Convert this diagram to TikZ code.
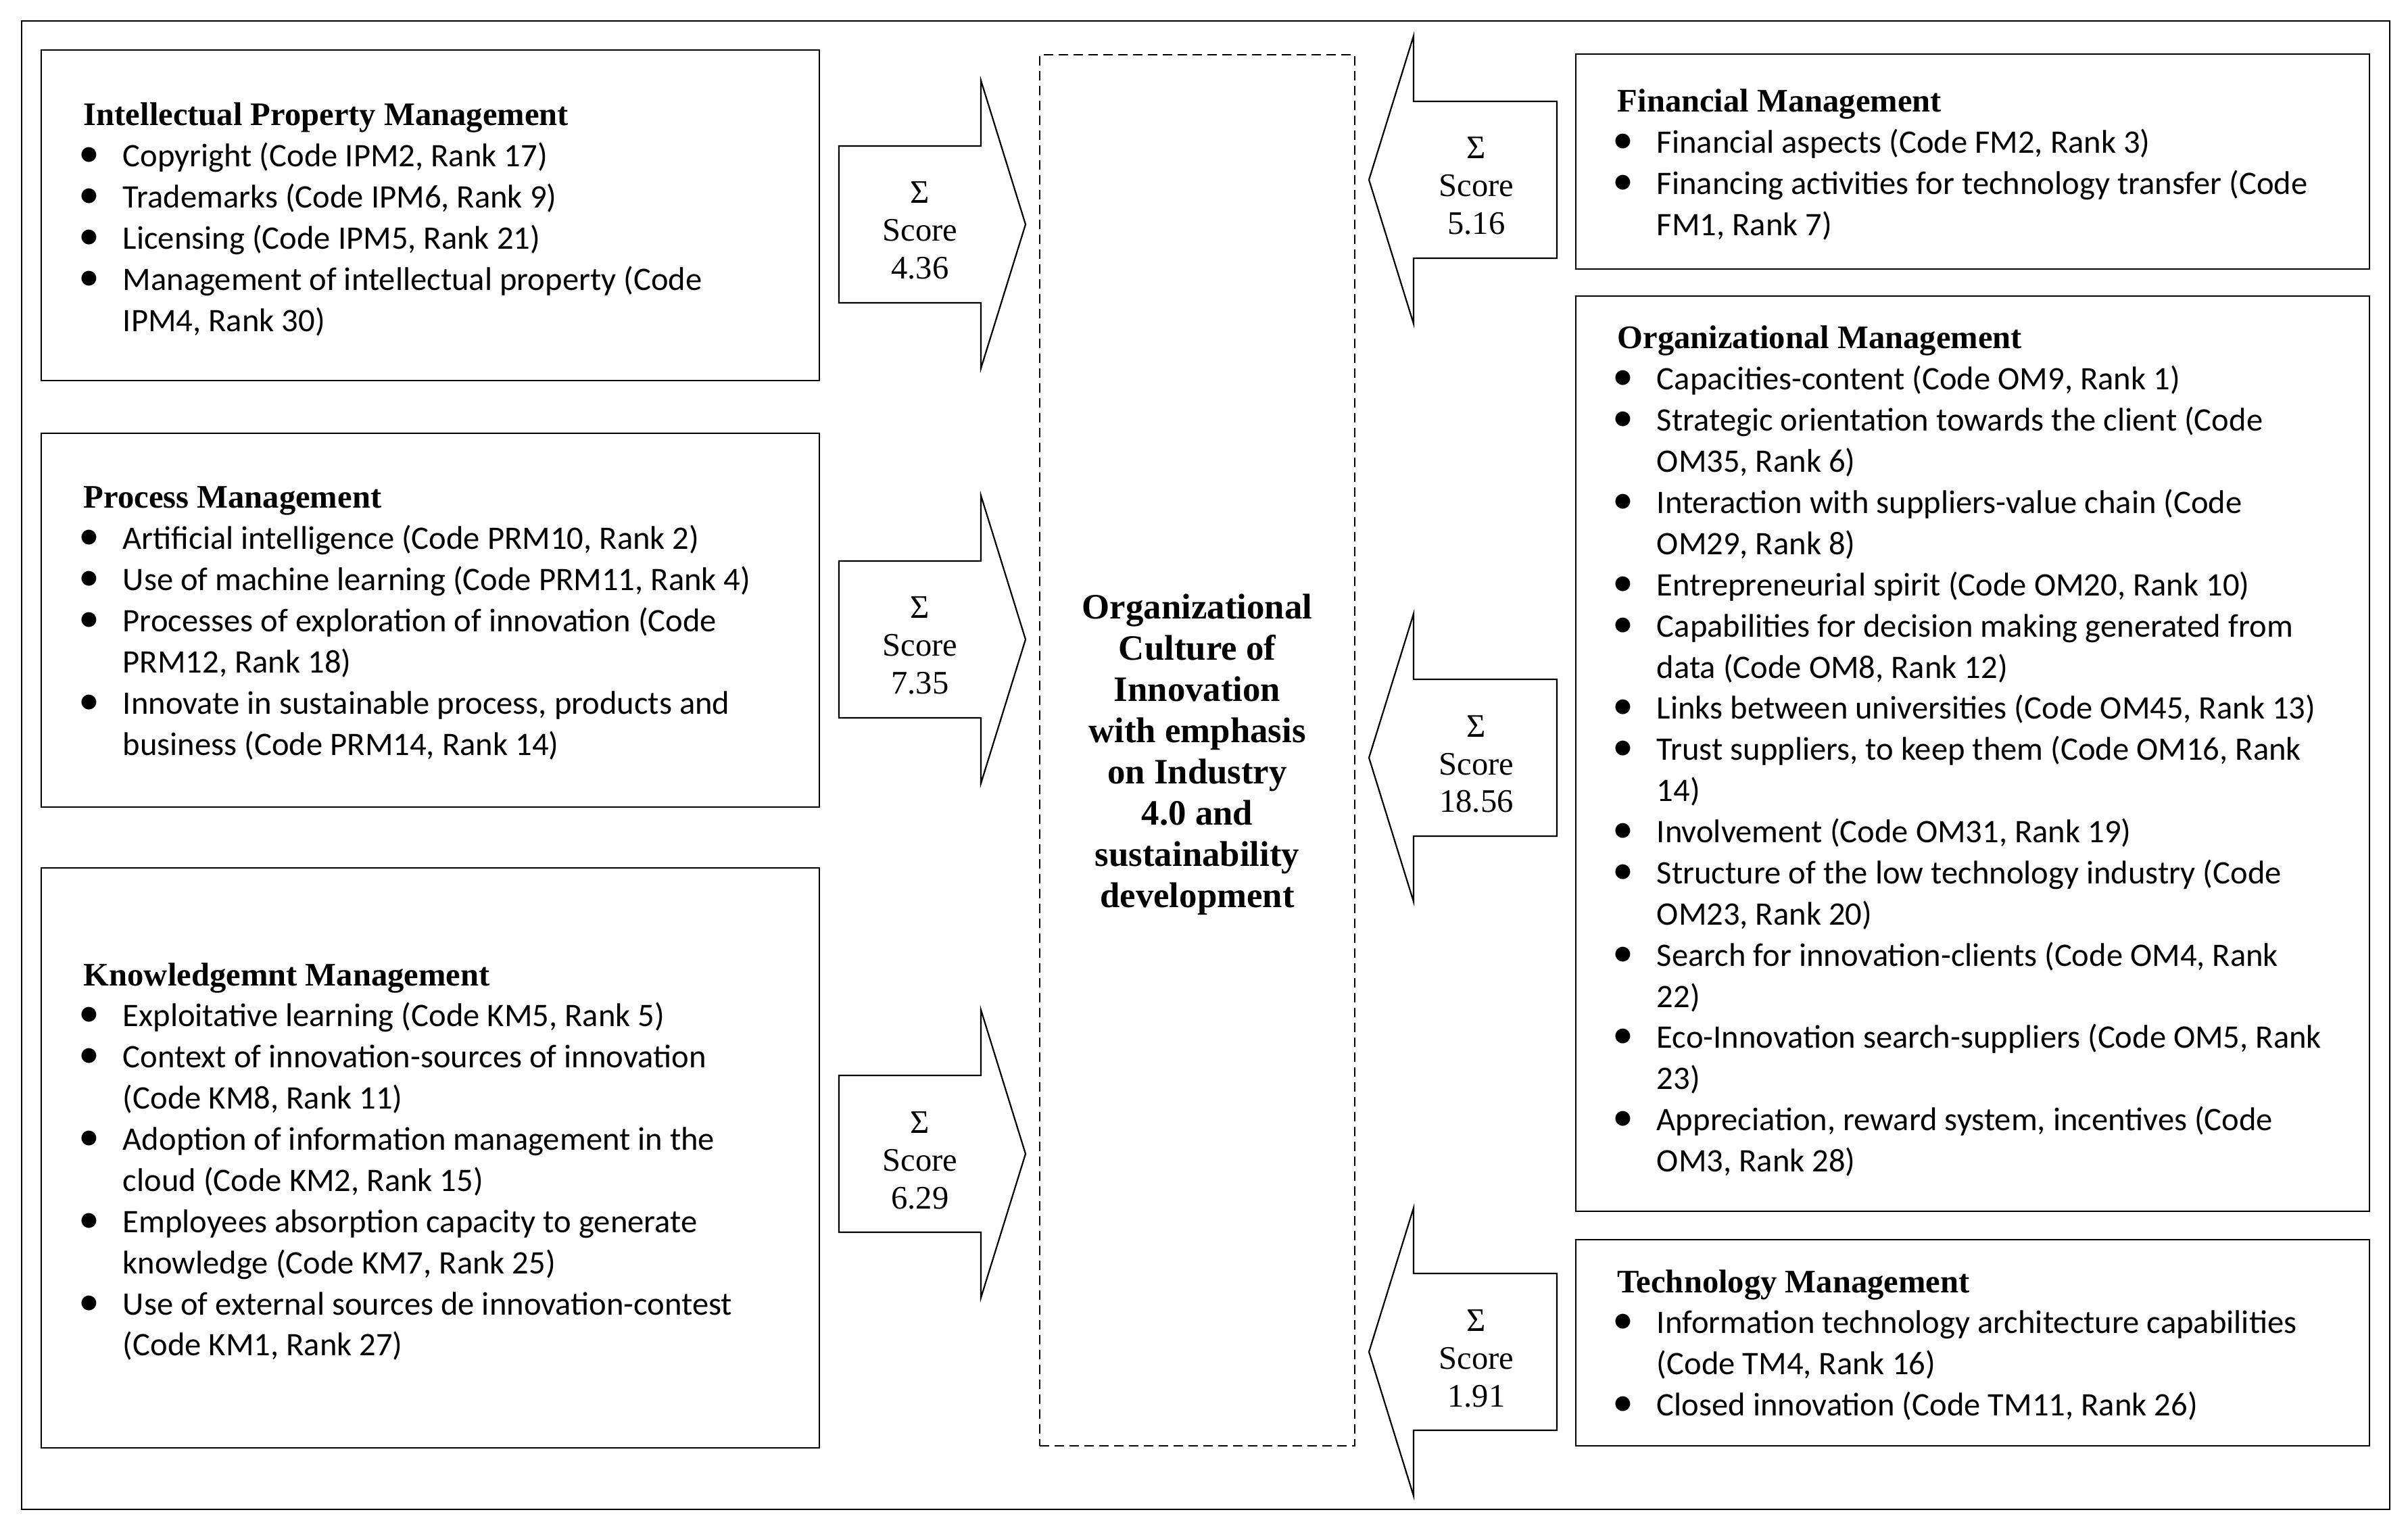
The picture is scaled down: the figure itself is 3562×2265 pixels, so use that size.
\documentclass[tikz,border=0pt]{standalone}
\usepackage{fontspec}
\setmainfont{Carlito}
\newfontfamily\tnr{Liberation Serif}
\usetikzlibrary{fit}
\tikzset{
  x=0.25pt, y=-0.25pt,
  frm/.style={draw, line width=0.7pt, inner sep=0pt},
  mbox/.style={draw, line width=0.7pt, inner sep=0pt},
  cbox/.style={draw, line width=0.55pt, dash pattern=on 3.5pt off 2pt, inner sep=0pt},
  barrow/.style={draw, line width=0.55pt, fill=white, line join=miter},
  txt/.style={inner sep=0pt, anchor=base west},
  sctxt/.style={inner sep=0pt, anchor=base},
}
% box text: vertical list of lines with fixed baseline distance
\newcommand\BT[1]{\vtop{\fontsize{12.15}{15.22}\selectfont\lineskiplimit=-100pt\lineskip=0pt #1}}
\newcommand\TT[1]{\hbox{\tnr\bfseries #1}}
\newcommand\BB[1]{\hbox{\hbox to 14.5pt{\hbox to 4pt{\hss{\fontsize{15.5}{15.5}\selectfont\textbullet}\hss}\hss}#1}}
\newcommand\CC[1]{\hbox{\hskip 14.5pt #1}}
\newcommand\SC[1]{\vtop{\tnr\fontsize{12.15}{14}\selectfont\lineskiplimit=-100pt\lineskip=0pt\halign{\hfil##\hfil\cr Σ\cr Score\cr #1\cr}}}
\newcommand\LArrow[1]{\draw[barrow,shift={(0,#1)}] (1241,-116) -- (1451,-116) -- (1451,-213) -- (1517,0) -- (1451,213) -- (1451,116) -- (1241,116) -- cycle;}
\newcommand\RArrow[1]{\draw[barrow,shift={(0,#1)}] (2303,-116) -- (2091,-116) -- (2091,-213) -- (2025,0) -- (2091,213) -- (2091,116) -- (2303,116) -- cycle;}
\begin{document}
\begin{tikzpicture}
\useasboundingbox (0,0) rectangle (3562,2265);
\node[frm, fit={(32,31) (3535,2233)}] (frame) {};

% left boxes
\node[mbox, fit={(61,74) (1212,563)}] (ipm) {};
\node[mbox, fit={(61,641) (1212,1194)}] (prm) {};
\node[mbox, fit={(61,1284) (1212,2142)}] (km) {};
% right boxes
\node[mbox, fit={(2331,80) (3505,398)}] (fm) {};
\node[mbox, fit={(2331,438) (3505,1792)}] (om) {};
\node[mbox, fit={(2331,1834) (3505,2139)}] (tm) {};
% centre
\node[cbox, fit={(1538,81) (2004,2139)}] (core) {};

\node[txt] (ipmtext) at (123,186) {\BT{%
\TT{Intellectual Property Management}
\BB{Copyright (Code IPM2, Rank 17)}
\BB{Trademarks (Code IPM6, Rank 9)}
\BB{Licensing (Code IPM5, Rank 21)}
\BB{Management of intellectual property (Code}
\CC{IPM4, Rank 30)}}};

\node[txt] (prmtext) at (123,752) {\BT{%
\TT{Process Management}
\BB{Artificial intelligence (Code PRM10, Rank 2)}
\BB{Use of machine learning (Code PRM11, Rank 4)}
\BB{Processes of exploration of innovation (Code}
\CC{PRM12, Rank 18)}
\BB{Innovate in sustainable process, products and}
\CC{business (Code PRM14, Rank 14)}}};

\node[txt] (kmtext) at (123,1458) {\BT{%
\TT{Knowledgemnt Management}
\BB{Exploitative learning (Code KM5, Rank 5)}
\BB{Context of innovation-sources of innovation}
\CC{(Code KM8, Rank 11)}
\BB{Adoption of information management in the}
\CC{cloud (Code KM2, Rank 15)}
\BB{Employees absorption capacity to generate}
\CC{knowledge (Code KM7, Rank 25)}
\BB{Use of external sources de innovation-contest}
\CC{(Code KM1, Rank 27)}}};

\node[txt] (fmtext) at (2392,166) {\BT{%
\TT{Financial Management}
\BB{Financial aspects (Code FM2, Rank 3)}
\BB{Financing activities for technology transfer (Code}
\CC{FM1, Rank 7)}}};

\node[txt] (omtext) at (2392,516) {\BT{%
\TT{Organizational Management}
\BB{Capacities-content (Code OM9, Rank 1)}
\BB{Strategic orientation towards the client (Code}
\CC{OM35, Rank 6)}
\BB{Interaction with suppliers-value chain (Code}
\CC{OM29, Rank 8)}
\BB{Entrepreneurial spirit (Code OM20, Rank 10)}
\BB{Capabilities for decision making generated from}
\CC{data (Code OM8, Rank 12)}
\BB{Links between universities (Code OM45, Rank 13)}
\BB{Trust suppliers, to keep them (Code OM16, Rank}
\CC{14)}
\BB{Involvement (Code OM31, Rank 19)}
\BB{Structure of the low technology industry (Code}
\CC{OM23, Rank 20)}
\BB{Search for innovation-clients (Code OM4, Rank}
\CC{22)}
\BB{Eco-Innovation search-suppliers (Code OM5, Rank}
\CC{23)}
\BB{Appreciation, reward system, incentives (Code}
\CC{OM3, Rank 28)}}};

\node[txt] (tmtext) at (2392,1912) {\BT{%
\TT{Technology Management}
\BB{Information technology architecture capabilities}
\CC{(Code TM4, Rank 16)}
\BB{Closed innovation (Code TM11, Rank 26)}}};

\node[sctxt] (coretext) at (1771,916) {\vtop{\tnr\bfseries\fontsize{13.2}{15.25}\selectfont\lineskiplimit=-100pt\lineskip=0pt
\halign{\hfil#\hfil\cr Organizational\cr Culture of\cr Innovation\cr with emphasis\cr on Industry\cr 4.0 and\cr sustainability\cr development\cr}}};

% block arrows
\LArrow{332}
\LArrow{946}
\LArrow{1707}
\RArrow{266}
\RArrow{1121}
\RArrow{2000}

\node[sctxt] (sipm) at (1361,301) {\SC{4.36}};
\node[sctxt] (sprm) at (1361,915) {\SC{7.35}};
\node[sctxt] (skm) at (1361,1676) {\SC{6.29}};
\node[sctxt] (sfm) at (2184,235) {\SC{5.16}};
\node[sctxt] (som) at (2184,1090) {\SC{18.56}};
\node[sctxt] (stm) at (2184,1969) {\SC{1.91}};
\end{tikzpicture}
\end{document}
